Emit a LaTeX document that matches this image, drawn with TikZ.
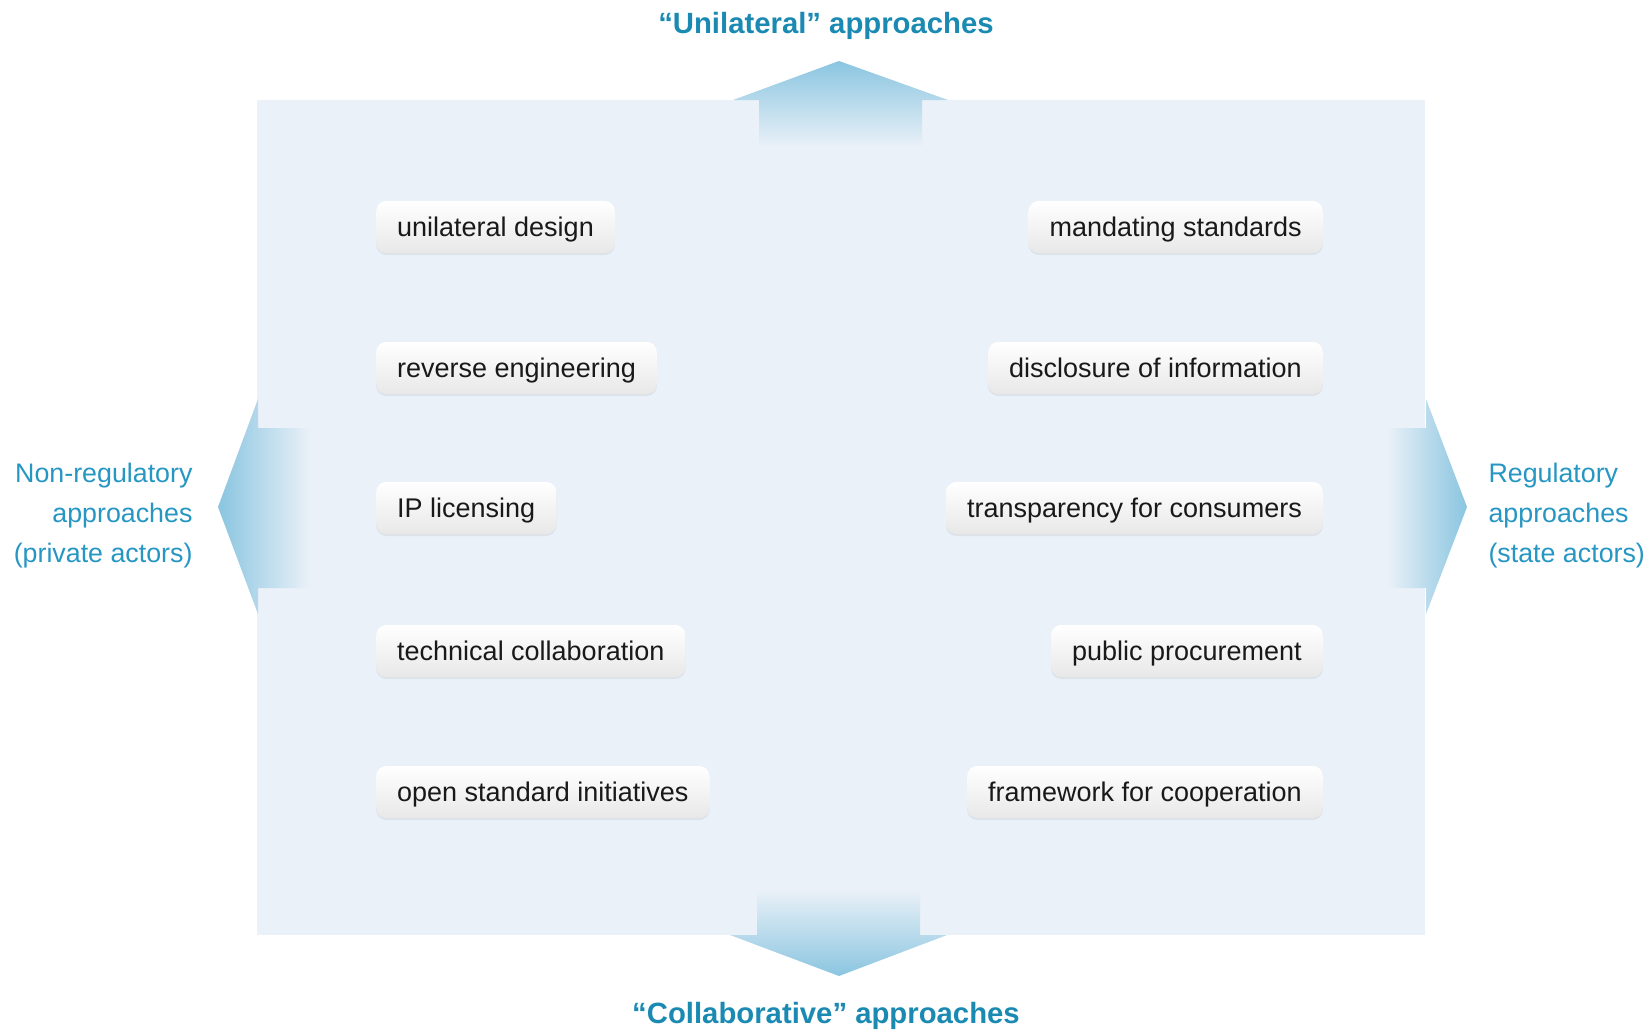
\documentclass[tikz,border=0pt]{standalone}
\usepackage{fontspec}
\setmainfont{Liberation Sans}
\usetikzlibrary{shadows}
\definecolor{panelblue}{RGB}{234,241,248}
\definecolor{arrowblue}{RGB}{138,197,224}
\definecolor{titleblue}{RGB}{27,138,178}
\definecolor{sideblue}{RGB}{38,150,194}

\begin{document}
\begin{tikzpicture}[x=1pt, y=-1pt,
    item/.style={rounded corners=10pt, top color=white, bottom color=black!9,
        drop shadow={shadow xshift=0pt, shadow yshift=-2pt, opacity=0.12},
        minimum height=52pt, inner xsep=21pt, text height=22pt, text depth=4pt,
        text=black!90, font=\fontsize{27}{30}\selectfont},
    title/.style={text=titleblue, font=\fontsize{29.3}{32}\selectfont\bfseries},
    side/.style={text=sideblue, font=\fontsize{26.8}{40}\selectfont}]
    \useasboundingbox (0,0) rectangle (1647,1033);

    % Panel
    \fill[panelblue] (257,100) rectangle (1425,935);

    % Direction arrows
    \shade[top color=arrowblue, bottom color=panelblue] (733,100) -- (839,61) -- (948,100) -- (922,100) -- (922,147) -- (759,147) -- (759,100) -- cycle;
    \shade[top color=panelblue, bottom color=arrowblue] (757,890) -- (920,890) -- (920,935) -- (947,935) -- (839,976) -- (730,935) -- (757,935) -- cycle;
    \shade[left color=arrowblue, right color=panelblue] (258,399) -- (218,507) -- (258,614) -- (258,588) -- (310,588) -- (310,428) -- (258,428) -- cycle;
    \shade[left color=panelblue, right color=arrowblue] (1426,399) -- (1467,507) -- (1426,614) -- (1426,588) -- (1387,588) -- (1387,428) -- (1426,428) -- cycle;

    % Axis labels
    \node[title] (unilateral) at (826,26) {``Unilateral'' approaches};
    \node[title] (collab) at (826,1016) {``Collaborative'' approaches};
    \node[side, anchor=east, align=right] (nonreg) at (196,516) {Non-regulatory\\approaches\\(private actors)};
    \node[side, anchor=west, align=left] (reg) at (1485,516) {Regulatory\\approaches\\(state actors)};

    % Private actors
    \node[item, anchor=west] (design) at (376,227) {unilateral design};
    \node[item, anchor=west] (reverse) at (376,368) {reverse engineering};
    \node[item, anchor=west] (iplic) at (376,508) {IP licensing};
    \node[item, anchor=west] (techcollab) at (376,651) {technical collaboration};
    \node[item, anchor=west] (openstd) at (376,792) {open standard initiatives};

    % State actors
    \node[item, anchor=east] (mandating) at (1323,227) {mandating standards};
    \node[item, anchor=east] (disclosure) at (1323,368) {disclosure of information};
    \node[item, anchor=east] (transparency) at (1323,508) {transparency for consumers};
    \node[item, anchor=east] (procurement) at (1323,651) {public procurement};
    \node[item, anchor=east] (framework) at (1323,792) {framework for cooperation};
\end{tikzpicture}
\end{document}
